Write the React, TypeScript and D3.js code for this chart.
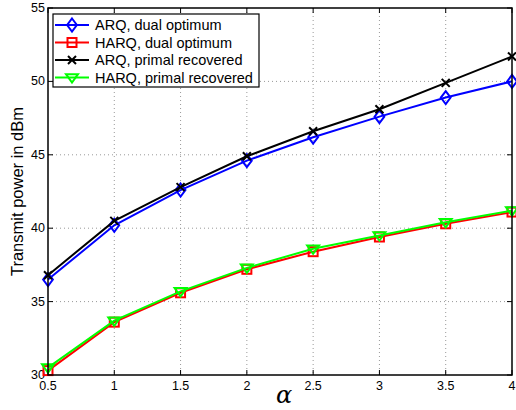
import React from "react";
import * as d3 from "d3";

// Transmit power (dBm) against the exponent alpha
const alphas = [0.5, 1, 1.5, 2, 2.5, 3, 3.5, 4];
const arqDual = [36.5, 40.2, 42.6, 44.6, 46.2, 47.6, 48.9, 50.0];
const harqDual = [30.3, 33.6, 35.6, 37.2, 38.4, 39.4, 40.3, 41.1];
const arqPrimal = [36.8, 40.5, 42.8, 44.9, 46.6, 48.1, 49.9, 51.7];
const harqPrimal = [30.5, 33.7, 35.7, 37.3, 38.6, 39.5, 40.4, 41.2];

const xTicks = [0.5, 1, 1.5, 2, 2.5, 3, 3.5, 4];
const yTicks = [30, 35, 40, 45, 50, 55];

type Marker = "diamond" | "square" | "cross" | "triangle";
const seriesList: { name: string; values: number[]; color: string; marker: Marker }[] = [
  { name: "ARQ, dual optimum", values: arqDual, color: "#0000ff", marker: "diamond" },
  { name: "HARQ, dual optimum", values: harqDual, color: "#ff0000", marker: "square" },
  { name: "ARQ, primal recovered", values: arqPrimal, color: "#000000", marker: "cross" },
  { name: "HARQ, primal recovered", values: harqPrimal, color: "#00ff00", marker: "triangle" },
];

const W = 516;
const H = 410;
const left = 48;
const right = 512;
const top = 8;
const bottom = 375;

function MarkerShape({ kind, x, y, color }: { kind: Marker; x: number; y: number; color: string }) {
  const sw = 2;
  if (kind === "diamond") {
    const r = 6.5;
    return (
      <path
        d={`M${x},${y - r}L${x + r * 0.75},${y}L${x},${y + r}L${x - r * 0.75},${y}Z`}
        fill="none"
        stroke={color}
        strokeWidth={sw}
      />
    );
  }
  if (kind === "square") {
    const r = 4.5;
    return <rect x={x - r} y={y - r} width={2 * r} height={2 * r} fill="none" stroke={color} strokeWidth={sw} />;
  }
  if (kind === "cross") {
    const r = 4;
    return (
      <path
        d={`M${x - r},${y - r}L${x + r},${y + r}M${x - r},${y + r}L${x + r},${y - r}`}
        stroke={color}
        strokeWidth={sw}
      />
    );
  }
  const r = 6;
  return (
    <path
      d={`M${x - r},${y - r * 0.55}L${x + r},${y - r * 0.55}L${x},${y + r * 0.85}Z`}
      fill="none"
      stroke={color}
      strokeWidth={sw}
    />
  );
}

export default function App() {
  const x = d3.scaleLinear().domain([0.5, 4]).range([left, right]);
  const y = d3.scaleLinear().domain([30, 55]).range([bottom, top]);
  const line = d3
    .line<number>()
    .x((_, i) => x(alphas[i]))
    .y((v) => y(v));

  const font = "'Liberation Sans', Arial, sans-serif";
  const legX = 53;
  const legY = 14;
  const legW = 206;
  const legH = 73;
  const rowH = 17.5;

  return (
    <svg
      width={W}
      height={H}
      style={{ position: "absolute", left: 0, top: 0, background: "#fff" }}
      fontFamily={font}
    >
      <rect x={0} y={0} width={W} height={H} fill="#fff" />
      {/* grid */}
      {xTicks.slice(1, -1).map((t) => (
        <line key={"gx" + t} x1={x(t)} x2={x(t)} y1={top} y2={bottom} stroke="#999" strokeWidth={1} strokeDasharray="1,3" />
      ))}
      {yTicks.slice(1, -1).map((t) => (
        <line key={"gy" + t} x1={left} x2={right} y1={y(t)} y2={y(t)} stroke="#999" strokeWidth={1} strokeDasharray="1,3" />
      ))}
      {/* ticks, inward on all four sides */}
      {xTicks.map((t) => (
        <g key={"tx" + t}>
          <line x1={x(t)} x2={x(t)} y1={bottom} y2={bottom - 5} stroke="#000" />
          <line x1={x(t)} x2={x(t)} y1={top} y2={top + 5} stroke="#000" />
          <text x={x(t)} y={bottom + 15} textAnchor="middle" fontSize={12.5}>
            {t}
          </text>
        </g>
      ))}
      {yTicks.map((t) => (
        <g key={"ty" + t}>
          <line x1={left} x2={left + 5} y1={y(t)} y2={y(t)} stroke="#000" />
          <line x1={right} x2={right - 5} y1={y(t)} y2={y(t)} stroke="#000" />
          <text x={left - 3} y={y(t) + 4} textAnchor="end" fontSize={12.5}>
            {t}
          </text>
        </g>
      ))}
      {/* series */}
      {seriesList.map((s) => (
        <g key={s.name}>
          <path d={line(s.values) ?? ""} fill="none" stroke={s.color} strokeWidth={2} />
          {s.values.map((v, i) => (
            <MarkerShape key={i} kind={s.marker} x={x(alphas[i])} y={y(v)} color={s.color} />
          ))}
        </g>
      ))}
      {/* frame */}
      <rect x={left} y={top} width={right - left} height={bottom - top} fill="none" stroke="#000" strokeWidth={1.5} />
      {/* legend */}
      <rect x={legX} y={legY} width={legW} height={legH} fill="#fff" stroke="#000" strokeWidth={1.2} />
      {seriesList.map((s, i) => {
        const cy = legY + 11 + i * rowH;
        return (
          <g key={"leg" + s.name}>
            <line x1={legX + 2} x2={legX + 36} y1={cy} y2={cy} stroke={s.color} strokeWidth={2} />
            <MarkerShape kind={s.marker} x={legX + 19} y={cy} color={s.color} />
            <text x={legX + 42} y={cy + 5} fontSize={14.5}>
              {s.name}
            </text>
          </g>
        );
      })}
      {/* axis labels */}
      <text
        transform={`translate(23,${(top + bottom) / 2}) rotate(-90)`}
        textAnchor="middle"
        fontSize={16.5}
      >
        Transmit power in dBm
      </text>
      <text x={(left + right) / 2 + 4} y={403} textAnchor="middle" fontSize={24} fontStyle="italic" fontFamily="'DejaVu Serif', 'Liberation Serif', serif">
        α
      </text>
    </svg>
  );
}
